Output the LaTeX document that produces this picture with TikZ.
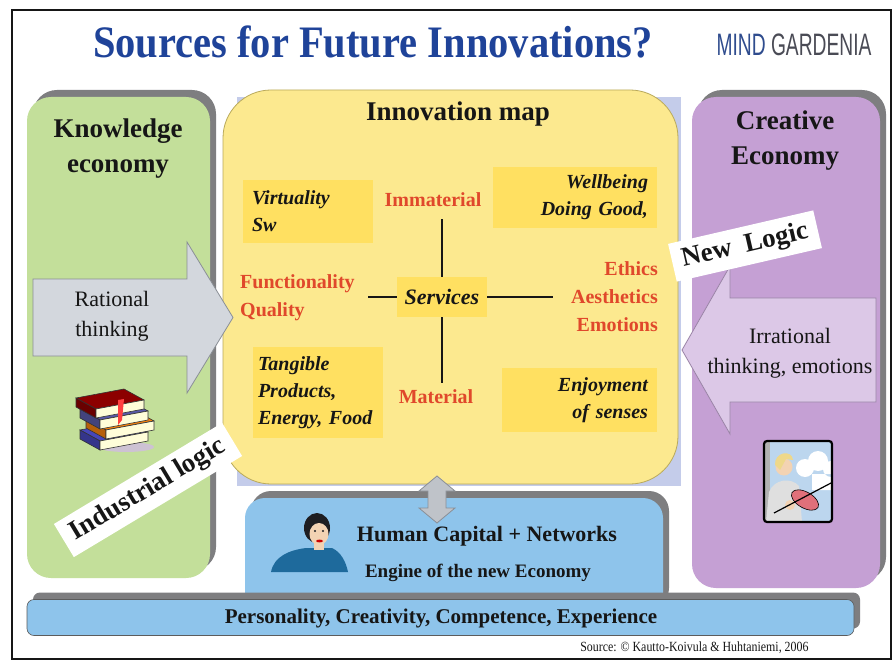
\documentclass[tikz,border=0pt]{standalone}
\usepackage{fontspec}
\setmainfont{Liberation Serif}
\newfontfamily\narrowserif[FakeStretch=0.9]{Liberation Serif}
\newfontfamily\smallserif[FakeStretch=0.85]{Liberation Serif}
\newfontfamily\logofont[FakeStretch=0.62]{Liberation Sans}
\usepackage{tikz}
\usetikzlibrary{shadows}
\usetikzlibrary{positioning}

\definecolor{titleblue}{HTML}{1F4399}
\definecolor{logoblue}{HTML}{2F4C8E}
\definecolor{logogrey}{HTML}{4A4B55}
\definecolor{inkblack}{HTML}{161616}
\definecolor{shadegrey}{HTML}{7E7E80}
\definecolor{knowgreen}{HTML}{C3DF9A}
\definecolor{creapurple}{HTML}{C5A0D4}
\definecolor{mapyellow}{HTML}{FCE98F}
\definecolor{mapedge}{HTML}{B9A95A}
\definecolor{mapback}{HTML}{C4CCEA}
\definecolor{cellyellow}{HTML}{FFE061}
\definecolor{mapred}{HTML}{E0482B}
\definecolor{capblue}{HTML}{8EC4EB}
\definecolor{thinkgrey}{HTML}{D3D7DD}
\definecolor{thinkedge}{HTML}{8A8F96}
\definecolor{thinklilac}{HTML}{DCC8E7}
\definecolor{lilacedge}{HTML}{9A84A6}
\definecolor{linkgrey}{HTML}{BFC3C9}
\definecolor{skin}{HTML}{F3D3B3}
\definecolor{hairdark}{HTML}{1E1E22}
\definecolor{shirtblue}{HTML}{1E6A9C}
\definecolor{skyblue}{HTML}{BCD6EE}
\definecolor{violinred}{HTML}{E0707A}
\definecolor{hairblond}{HTML}{EED88A}

\tikzset{
  head/.style={font=\bfseries\fontsize{27}{35}\selectfont, align=center, text=inkblack},
  thought/.style={font=\fontsize{22}{30}\selectfont, align=center, text=inkblack},
  quad/.style={font=\bfseries\fontsize{20}{28}\selectfont, text=mapred, inner sep=3pt},
  cell/.style={fill=cellyellow, text=inkblack, inner ysep=0pt,
    font=\bfseries\itshape\fontsize{20}{27}\selectfont},
  tag/.style={fill=white, text=inkblack, inner xsep=10pt, inner ysep=7pt,
    font=\bfseries\fontsize{27}{30}\selectfont},
  axis/.style={line width=2.4pt, draw=inkblack},
  backshadow/.style={drop shadow={shadow xshift=6pt, shadow yshift=7pt,
    fill=shadegrey, opacity=1}},
}

\begin{document}
\begin{tikzpicture}[x=1pt, y=-1pt]
  \useasboundingbox (0,0) rectangle (896,668);
  \fill[white] (0,0) rectangle (896,668);
  \draw[line width=1.4pt, inkblack] (12,10) rectangle (891,659);

  % heading line
  \node[font=\narrowserif\bfseries\fontsize{45}{48}\selectfont, text=titleblue]
    (title) at (373,42) {Sources for Future Innovations?};
  \node[font=\logofont\fontsize{31}{33}\selectfont] (logo) at (794,45)
    {\textcolor{logoblue}{MIND} \textcolor{logogrey}{GARDENIA}};

  % the three panels
  \fill[mapback] (237,97) rectangle (681,486);
  \node[rounded corners=48pt, fill=mapyellow, draw=mapedge, line width=0.8pt,
    minimum width=455, minimum height=394] (map) at (450.5,287) {};
  \node[rounded corners=24pt, fill=knowgreen, backshadow,
    minimum width=183, minimum height=481] (know) at (118.5,337.5) {};
  \node[rounded corners=24pt, fill=creapurple, backshadow,
    minimum width=188, minimum height=491] (crea) at (786,342.5) {};

  \node[head] (knowhead) at (118,149) {Knowledge\\economy};
  \node[head] (creahead) at (785,141) {Creative\\Economy};
  \node[head, font=\bfseries\fontsize{27}{30}\selectfont] (maphead) at (458,114)
    {Innovation map};

  % innovation map
  \node[cell, minimum width=130, minimum height=63, text width=112, align=left]
    (virt) at (308,211.5) {Virtuality\\Sw};
  \node[cell, minimum width=164, minimum height=61, text width=146, align=right]
    (well) at (575,197.5) {Wellbeing\\Doing Good,};
  \node[cell, minimum width=90, minimum height=40,
    font=\bfseries\itshape\fontsize{22}{27}\selectfont] (serv) at (442,297) {Services};
  \node[cell, minimum width=130, minimum height=91, text width=120, align=left,
    inner xsep=5pt] (tang) at (318,392.5) {Tangible\\Products,\\Energy, Food};
  \node[cell, minimum width=155, minimum height=64, text width=137, align=right]
    (enjoy) at (579.5,400) {Enjoyment\\of senses};

  \node[quad] (immat) at (433,200) {Immaterial};
  \node[quad] (mater) at (436,397) {Material};
  \node[quad, anchor=west, align=left] (func) at (237,298) {Functionality\\Quality};
  \node[quad, anchor=east, align=right] (ethic) at (661,297)
    {Ethics\\Aesthetics\\Emotions};

  \draw[axis, shorten >=9pt] (serv.north) -- (serv.north |- immat.south);
  \draw[axis, shorten >=4pt] (serv.south) -- (serv.south |- mater.north);
  \draw[axis, shorten >=10pt] (serv.west) -- (func.east |- serv.west);
  \draw[axis, shorten >=15pt] (serv.east) -- (ethic.west |- serv.east);

  % thinking arrows
  \draw[fill=thinkgrey, draw=thinkedge, line width=0.8pt]
    (33,279) -- (187,279) -- (187,242) -- (233,317.5) -- (187,393)
    -- (187,356) -- (33,356) -- cycle;
  \node[thought] (ratio) at (112,316) {Rational\\thinking};
  \draw[fill=thinklilac, draw=lilacedge, line width=0.8pt]
    (876,298) -- (730,298) -- (730,266) -- (682,350) -- (730,434)
    -- (730,402) -- (876,402) -- cycle;
  \node[thought] (irra) at (790,353) {Irrational\\thinking, emotions};

  \node[tag, rotate=31] (indus) at (148,490) {Industrial logic};
  \node[tag, rotate=13] (newlog) at (745,246) {New\ \ Logic};

  % human capital and base bar
  \node[rounded corners=20pt, fill=capblue, backshadow,
    minimum width=418, minimum height=117] (human) at (454,556.5) {};
  \node[font=\bfseries\fontsize{22}{26}\selectfont, text=inkblack]
    (humanhead) at (487,536) {Human Capital + Networks};
  \node[font=\bfseries\fontsize{19}{22}\selectfont, text=inkblack]
    (engine) at (478,573) {Engine of the new Economy};

  \coordinate (up) at (437,476);
  \draw[fill=linkgrey, draw=thinkedge, line width=0.8pt]
    (up) -- ++(18,15) -- ++(-9,0) -- ++(0,17) -- ++(9,0) -- ++(-18,15)
    -- ++(-18,-15) -- ++(9,0) -- ++(0,-17) -- ++(-9,0) -- cycle;

  \node[rounded corners=7pt, fill=capblue, draw=inkblack!70, line width=0.6pt,
    drop shadow={shadow xshift=6pt, shadow yshift=7pt, fill=shadegrey, opacity=1},
    minimum width=827, minimum height=36] (bar) at (440.5,617.5) {};
  \node[font=\bfseries\fontsize{21}{24}\selectfont, text=inkblack] (barhead)
    at (441,618) {Personality, Creativity, Competence, Experience};
  \node[font=\smallserif\fontsize{14}{16}\selectfont, text=inkblack, anchor=east]
    (source) at (812,648) {Source: \textcopyright\ Kautto-Koivula \& Huhtaniemi, 2006};

  % stack of books
  \fill[lilacedge!50] (126,447) ellipse [x radius=28, y radius=5];
  \foreach \ox/\oy/\cov in {80/430/{blue!45!gray}, 86/419/{orange!80!brown},
      80/409/{blue!30!gray}, 76/398/{red!55!black}} {
    \draw[fill=\cov, draw=black!80, line width=0.6pt]
      (\ox,\oy) -- ++(48,-9) -- ++(20,11) -- ++(-48,9) -- cycle;
    \draw[fill=\cov!75!black, draw=black!80, line width=0.6pt]
      (\ox,\oy) -- ++(20,11) -- ++(0,9) -- ++(-20,-11) -- cycle;
    \draw[fill=yellow!15!white, draw=black!80, line width=0.6pt]
      (\ox+20,\oy+11) -- ++(48,-9) -- ++(0,9) -- ++(-48,9) -- cycle;
  }
  \fill[red!75] (118,400) -- (124,399) -- (122,420) -- (118,425) -- cycle;

  % woman
  \fill[shirtblue] (271,572) .. controls (274,556) and (290,550) .. (306,548)
    -- (332,548) .. controls (341,552) and (346,562) .. (348,572) -- cycle;
  \fill[skin] (314,540) rectangle (324,550);
  \fill[hairdark] (317,528) ellipse [x radius=13, y radius=15];
  \fill[skin] (319,534) ellipse [x radius=9.5, y radius=11];
  \fill[hairdark] (315,531) circle (1.1) (323,531) circle (1.1);
  \fill[red!80!black] (319.5,541) ellipse [x radius=3.5, y radius=1.4];

  % violin player
  \begin{scope}
    \clip[rounded corners=3pt] (764,441) rectangle (832,522);
    \fill[skyblue] (764,441) rectangle (832,522);
    \fill[white] (805,468) circle (9) (818,461) circle (10) (831,469) circle (8)
      (812,474) rectangle (832,490);
    \fill[gray!60] (764,441) rectangle (770,522);
    \fill[gray!25] (766,522) -- (769,492) .. controls (774,479) and (791,477)
      .. (799,486) -- (802,522) -- cycle;
    \fill[skin] (784,467) circle (8.5);
    \fill[hairblond] (775,465) .. controls (774,452) and (792,449) .. (793,460)
      -- (786,459) -- (780,470) -- cycle;
    \fill[violinred, draw=black, line width=0.6pt, rotate around={-30:(805,500)}]
      (805,500) ellipse [x radius=15, y radius=8];
    \fill[skin] (790,505) circle (5);
    \draw[line width=1.2pt] (774,513) -- (831,483);
  \end{scope}
  \draw[line width=2.2pt, rounded corners=3pt] (764,441) rectangle (832,522);
\end{tikzpicture}
\end{document}
